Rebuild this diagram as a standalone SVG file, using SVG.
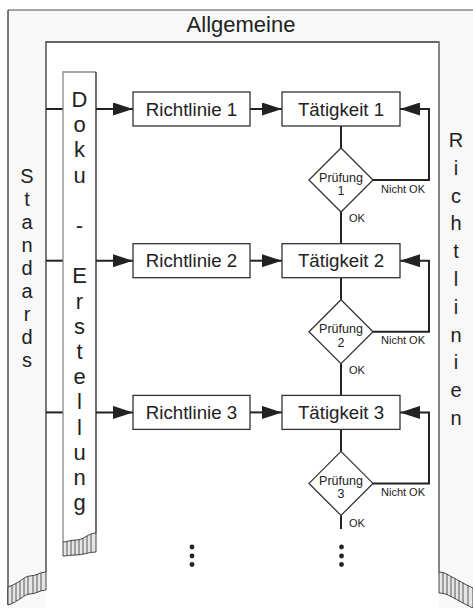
<svg xmlns="http://www.w3.org/2000/svg" width="473" height="608" viewBox="0 0 473 608">
<style>
text{font-family:"Liberation Sans",Arial,sans-serif;fill:#222}
.box{fill:#fff;stroke:#333;stroke-width:1.3}
.ln{fill:none;stroke:#222;stroke-width:2}
.bt{font-size:18.7px;text-anchor:middle}
.vt{font-size:20px;text-anchor:middle}
.pr{font-size:12.5px;text-anchor:middle}
.sm{font-size:11px}
.pleat{fill:#e4e6e4;stroke:#333;stroke-width:0.9}
.pl{stroke:#333;stroke-width:0.8}
</style>
<defs>
<marker id="ah" viewBox="0 0 20 13" refX="20" refY="6.5" markerWidth="20" markerHeight="13" markerUnits="userSpaceOnUse" orient="auto">
<path d="M0,0L20,6.5L0,13z" fill="#222"/>
</marker>
</defs>
<rect width="473" height="608" fill="#fff"/>
<g id="panel">
<path d="M8,10H473V608H8z" fill="#f7f8f7"/>
<line x1="8" y1="10" x2="473" y2="10" stroke="#888" stroke-width="1.6"/>
<line x1="8" y1="10" x2="8" y2="605" stroke="#222" stroke-width="1.2"/>
<rect x="46" y="42" width="393" height="570" fill="#fff"/>
<path d="M46,572V42H439V572" fill="none" stroke="#333" stroke-width="1.3"/>
<line x1="439" y1="42" x2="439" y2="572" stroke="#888" stroke-width="1.6"/>
<text x="241" y="32" style="font-size:22px" text-anchor="middle">Allgemeine</text>
</g>
<g id="left-pleats">
<path class="pleat" d="M8,587C20,583 24,576 30,576C36,576 40,572 46,572V590C40,590 36,594 30,594C24,594 20,601 8,605z"/>
<g class="pl">
<line x1="12" y1="585" x2="12" y2="603"/><line x1="16" y1="583" x2="16" y2="601"/><line x1="20" y1="581" x2="20" y2="599"/><line x1="24" y1="578" x2="24" y2="596"/><line x1="28" y1="576.5" x2="28" y2="594.5"/><line x1="33" y1="575.5" x2="33" y2="593.5"/><line x1="37" y1="574.5" x2="37" y2="592.5"/><line x1="41" y1="573" x2="41" y2="591"/>
</g>
</g>
<g id="right-pleats">
<path class="pleat" d="M439,572C445,572 448,575 452,577C458,580 464,584 473,588V608C464,604 458,600 452,597C448,595 445,593 439,593z"/>
<g class="pl">
<line x1="443" y1="572.5" x2="443" y2="593.5"/><line x1="447" y1="574" x2="447" y2="595"/><line x1="451" y1="576.5" x2="451" y2="597"/><line x1="455" y1="578.5" x2="455" y2="599"/><line x1="459" y1="580.5" x2="459" y2="601"/><line x1="463" y1="582.5" x2="463" y2="603"/><line x1="468" y1="585.5" x2="468" y2="606"/>
</g>
</g>
<g id="standards">
<text class="vt" x="27" y="183">S</text>
<text class="vt" x="27" y="206">t</text>
<text class="vt" x="27" y="229">a</text>
<text class="vt" x="27" y="252">n</text>
<text class="vt" x="27" y="275">d</text>
<text class="vt" x="27" y="298">a</text>
<text class="vt" x="27" y="321">r</text>
<text class="vt" x="27" y="344">d</text>
<text class="vt" x="27" y="367">s</text>
</g>
<g id="richtlinien">
<text class="vt" x="456" y="147">R</text>
<text class="vt" x="456" y="175">i</text>
<text class="vt" x="456" y="203">c</text>
<text class="vt" x="456" y="230">h</text>
<text class="vt" x="456" y="258">t</text>
<text class="vt" x="456" y="286">l</text>
<text class="vt" x="456" y="314">i</text>
<text class="vt" x="456" y="342">n</text>
<text class="vt" x="456" y="369">i</text>
<text class="vt" x="456" y="397">e</text>
<text class="vt" x="456" y="425">n</text>
</g>
<g id="connectors">
<line class="ln" x1="46" y1="109" x2="63" y2="109"/>
<line class="ln" x1="46" y1="260.7" x2="63" y2="260.7"/>
<line class="ln" x1="46" y1="412.4" x2="63" y2="412.4"/>
<line class="ln" x1="96" y1="109" x2="133" y2="109" marker-end="url(#ah)"/>
<line class="ln" x1="96" y1="260.7" x2="133" y2="260.7" marker-end="url(#ah)"/>
<line class="ln" x1="96" y1="412.4" x2="133" y2="412.4" marker-end="url(#ah)"/>
<line class="ln" x1="250" y1="109" x2="282" y2="109" marker-end="url(#ah)"/>
<line class="ln" x1="250" y1="260.7" x2="282" y2="260.7" marker-end="url(#ah)"/>
<line class="ln" x1="250" y1="412.4" x2="282" y2="412.4" marker-end="url(#ah)"/>
<line class="ln" x1="341" y1="126" x2="341" y2="148"/>
<line class="ln" x1="341" y1="212" x2="341" y2="243.7"/>
<line class="ln" x1="341" y1="277.7" x2="341" y2="299.7"/>
<line class="ln" x1="341" y1="363.7" x2="341" y2="395.4"/>
<line class="ln" x1="341" y1="429.4" x2="341" y2="451.4"/>
<line class="ln" x1="341" y1="515.4" x2="341" y2="529"/>
<path class="ln" d="M373,180H429V109H400" marker-end="url(#ah)"/>
<path class="ln" d="M373,331.7H429V260.7H400" marker-end="url(#ah)"/>
<path class="ln" d="M373,483.4H429V412.4H400" marker-end="url(#ah)"/>
<text class="sm" x="349" y="222.3">OK</text>
<text class="sm" x="349" y="374">OK</text>
<text class="sm" x="349" y="527">OK</text>
<text class="sm" x="381" y="192.7">Nicht OK</text>
<text class="sm" x="381" y="344.4">Nicht OK</text>
<text class="sm" x="381" y="496.1">Nicht OK</text>
</g>
<g id="doku">
<path d="M63,72H96V533C88,533 84,540 76,540C70,540 67,542 63,542z" fill="#fff"/>
<path d="M63,542V72H96" fill="none" stroke="#888" stroke-width="1.3"/>
<line x1="96" y1="72" x2="96" y2="533" stroke="#222" stroke-width="1.3"/>
<path class="pleat" d="M63,542C67,542 70,540 76,540C84,540 88,533 96,533V552C88,552 84,555 76,555C70,555 67,556 63,556z"/>
<g class="pl">
<line x1="67" y1="541.5" x2="67" y2="555.5"/><line x1="71" y1="540.5" x2="71" y2="555"/><line x1="75" y1="540" x2="75" y2="555"/><line x1="79" y1="539.5" x2="79" y2="555"/><line x1="83" y1="538" x2="83" y2="554"/><line x1="87" y1="536" x2="87" y2="553"/><line x1="91" y1="534" x2="91" y2="552.5"/>
</g>
<text class="vt" x="79.5" y="107" style="font-size:22px">D</text>
<text class="vt" x="79.5" y="132.2" style="font-size:22px">o</text>
<text class="vt" x="79.5" y="157.4" style="font-size:22px">k</text>
<text class="vt" x="79.5" y="182.6" style="font-size:22px">u</text>
<text class="vt" x="79.5" y="233" style="font-size:22px">-</text>
<text class="vt" x="79.5" y="283.4" style="font-size:22px">E</text>
<text class="vt" x="79.5" y="308.6" style="font-size:22px">r</text>
<text class="vt" x="79.5" y="333.8" style="font-size:22px">s</text>
<text class="vt" x="79.5" y="359" style="font-size:22px">t</text>
<text class="vt" x="79.5" y="384.2" style="font-size:22px">e</text>
<text class="vt" x="79.5" y="409.4" style="font-size:22px">l</text>
<text class="vt" x="79.5" y="434.6" style="font-size:22px">l</text>
<text class="vt" x="79.5" y="459.8" style="font-size:22px">u</text>
<text class="vt" x="79.5" y="485" style="font-size:22px">n</text>
<text class="vt" x="79.5" y="510.2" style="font-size:22px">g</text>
</g>
<g id="richtlinie1"><rect class="box" x="133" y="92" width="117" height="34"/><text class="bt" x="191.5" y="115.5">Richtlinie 1</text></g>
<g id="richtlinie2"><rect class="box" x="133" y="243.7" width="117" height="34"/><text class="bt" x="191.5" y="267.2">Richtlinie 2</text></g>
<g id="richtlinie3"><rect class="box" x="133" y="395.4" width="117" height="34"/><text class="bt" x="191.5" y="418.9">Richtlinie 3</text></g>
<g id="taetigkeit1"><rect class="box" x="282" y="92" width="118" height="34"/><text class="bt" x="341" y="115.5">Tätigkeit 1</text></g>
<g id="taetigkeit2"><rect class="box" x="282" y="243.7" width="118" height="34"/><text class="bt" x="341" y="267.2">Tätigkeit 2</text></g>
<g id="taetigkeit3"><rect class="box" x="282" y="395.4" width="118" height="34"/><text class="bt" x="341" y="418.9">Tätigkeit 3</text></g>
<g id="pruefung1"><path class="box" d="M341,148L373,180L341,212L309,180z"/><text class="pr" x="341" y="181.5">Prüfung</text><text class="pr" x="341" y="195">1</text></g>
<g id="pruefung2"><path class="box" d="M341,299.7L373,331.7L341,363.7L309,331.7z"/><text class="pr" x="341" y="333.2">Prüfung</text><text class="pr" x="341" y="346.7">2</text></g>
<g id="pruefung3"><path class="box" d="M341,451.4L373,483.4L341,515.4L309,483.4z"/><text class="pr" x="341" y="484.9">Prüfung</text><text class="pr" x="341" y="498.4">3</text></g>
<g id="dots" fill="#222">
<circle cx="192" cy="547" r="2.4"/><circle cx="192" cy="556" r="2.4"/><circle cx="192" cy="564.5" r="2.4"/>
<circle cx="341.5" cy="547" r="2.4"/><circle cx="341.5" cy="556" r="2.4"/><circle cx="341.5" cy="564.5" r="2.4"/>
</g>
</svg>
